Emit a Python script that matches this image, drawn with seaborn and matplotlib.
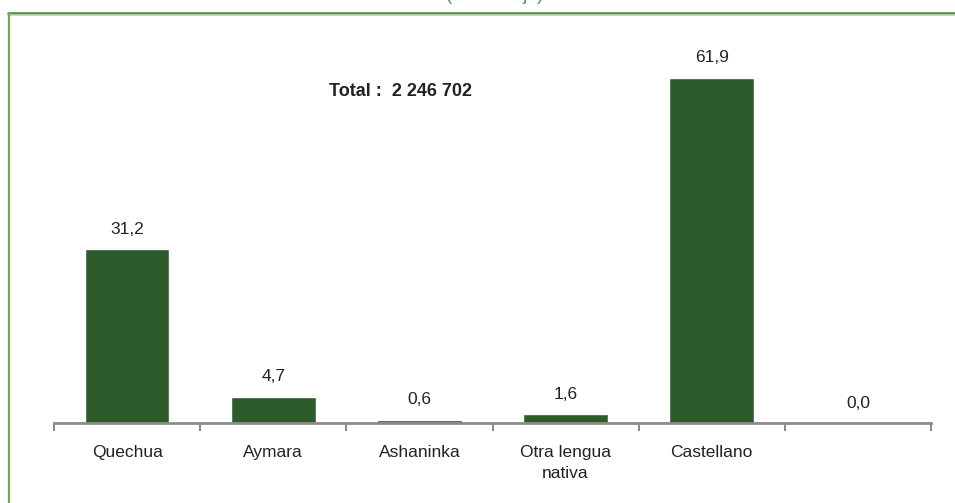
import matplotlib
matplotlib.use("Agg")
import matplotlib.pyplot as plt
from matplotlib.lines import Line2D
import seaborn as sns
import numpy as np

categorias = ["Quechua", "Aymara", "Ashaninka", "Otra lengua\nnativa", "Castellano", ""]
porcentajes = [31.2, 4.7, 0.6, 1.6, 61.9, 0.0]
total_texto = "Total :  2 246 702"
titulo = "(Porcentaje)"

sns.set_style("white")
plt.rcParams["font.family"] = ["Liberation Sans Narrow", "Liberation Sans", "DejaVu Sans"]

fig = plt.figure(figsize=(9.55, 5.03), dpi=100)
ax = fig.add_axes([54 / 955, 80 / 503, 877 / 955, 383 / 503])

sns.barplot(x=categorias, y=porcentajes, color="#2E5B2C", saturation=1, width=0.58, ax=ax)

etiquetas = [f"{v:.1f}".replace(".", ",") for v in porcentajes]
ax.bar_label(ax.containers[0], labels=etiquetas, padding=9, fontsize=12.5, color="#222222")

ax.set_ylim(0, 68.7)
ax.set_xlim(-0.5, len(categorias) - 0.5)
ax.set_yticks([])
ax.set_ylabel("")
for s in ["top", "right", "left"]:
    ax.spines[s].set_visible(False)
ax.spines["bottom"].set_color("#8C8C8C")
ax.spines["bottom"].set_linewidth(2)

ax.set_xticks(np.arange(-0.5, len(categorias)), minor=True)
ax.tick_params(axis="x", which="minor", length=6, width=1.5, color="#8C8C8C", direction="out", bottom=True)
ax.tick_params(axis="x", which="major", length=0, labelsize=12.5, labelcolor="#222222", pad=16)
for t in ax.get_xticklabels():
    t.set_linespacing(1.45)

ax.text((400 - 54) / 877, (423 - 92) / 383, total_texto, transform=ax.transAxes, ha="center", va="center",
        fontsize=13, fontweight="bold", color="#222222")

# titulo cortado arriba
fig.text(495 / 955, 1.0, titulo, ha="center", va="baseline", fontsize=13, color="#5B8A47")

# marco verde
fig.add_artist(Line2D([8 / 955, 1], [1 - 13 / 503, 1 - 13 / 503], transform=fig.transFigure,
                      color="#5B8A47", lw=1.8))
fig.add_artist(Line2D([8 / 955, 1], [1 - 15 / 503, 1 - 15 / 503], transform=fig.transFigure,
                      color="#B9D7A8", lw=1.2))
fig.add_artist(Line2D([9 / 955, 9 / 955], [0, 1 - 13 / 503], transform=fig.transFigure,
                      color="#7AA363", lw=1.6))

fig.savefig("out.png", dpi=100)
